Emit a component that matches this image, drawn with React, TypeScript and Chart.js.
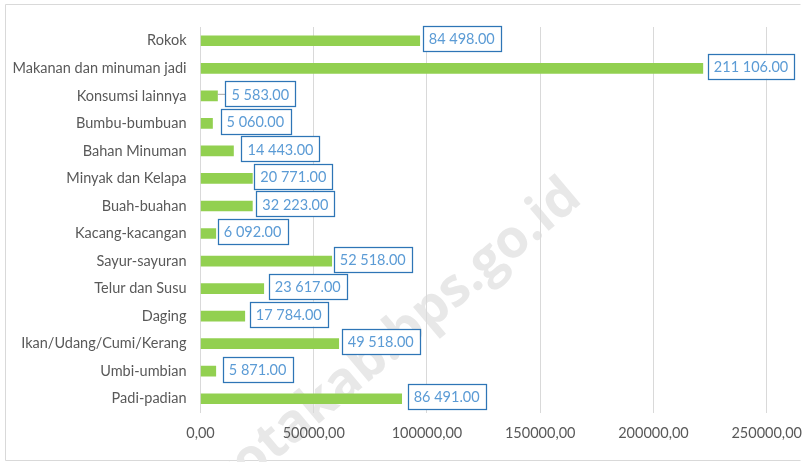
import React, { useEffect, useRef } from "react";
import { Chart, registerables } from "chart.js";

Chart.register(...registerables);

const categories = [
  "Rokok",
  "Makanan dan minuman jadi",
  "Konsumsi lainnya",
  "Bumbu-bumbuan",
  "Bahan Minuman",
  "Minyak dan Kelapa",
  "Buah-buahan",
  "Kacang-kacangan",
  "Sayur-sayuran",
  "Telur dan Susu",
  "Daging",
  "Ikan/Udang/Cumi/Kerang",
  "Umbi-umbian",
  "Padi-padian",
];

// bar lengths as drawn in the picture
const barValues = [96800, 221800, 7500, 5300, 14560, 22900, 22900, 6750, 57940, 27930, 19550, 61030, 6750, 88830];

// numbers printed in the label boxes
const labelValues = [84498, 211106, 5583, 5060, 14443, 20771, 32223, 6092, 52518, 23617, 17784, 49518, 5871, 86491];

const xTicks = [0, 50000, 100000, 150000, 200000, 250000];

// gap (px) between bar end and its label box
const labelGaps = [3, 5, 8, 8, 8, 2, 4, 2, 2, 5, 5, 3, 7, 6];

const FONT = "Lato, 'Open Sans', sans-serif";

function fmtLabel(v: number): string {
  const s = String(Math.round(v));
  const withSep = s.replace(/\B(?=(\d{3})+(?!\d))/g, " ");
  return withSep + ".00";
}

const framePlugin = {
  id: "frame",
  beforeDraw(chart: any) {
    const ctx = chart.ctx;
    ctx.save();
    ctx.fillStyle = "#ffffff";
    ctx.fillRect(0, 0, chart.width, chart.height);
    ctx.strokeStyle = "#d9d9d9";
    ctx.lineWidth = 1;
    ctx.beginPath();
    ctx.moveTo(5.5, 460.5);
    ctx.lineTo(5.5, 4.5);
    ctx.lineTo(800.5, 4.5);
    ctx.moveTo(5.5, 460.5);
    ctx.lineTo(800.5, 460.5);
    ctx.stroke();
    // watermark
    ctx.translate(574, 190);
    ctx.rotate(-40 * Math.PI / 180);
    ctx.font = "bold 53px 'Open Sans', sans-serif";
    ctx.fillStyle = "#e8e8e8";
    ctx.textAlign = "right";
    ctx.textBaseline = "middle";
    ctx.fillText("kotakab.bps.go.id", 0, 0);
    ctx.restore();
  },
};

const labelPlugin = {
  id: "boxLabels",
  afterDatasetsDraw(chart: any) {
    const ctx = chart.ctx;
    const meta = chart.getDatasetMeta(0);
    ctx.save();
    ctx.font = "14.5px " + FONT;
    ctx.textBaseline = "middle";
    ctx.textAlign = "left";
    meta.data.forEach((bar: any, i: number) => {
      const text = fmtLabel(labelValues[i]);
      const tw = ctx.measureText(text).width;
      const w = tw + 12;
      const h = 25;
      const gap = labelGaps[i];
      const x0 = bar.x + gap;
      const cy = bar.y - 2;
      if (i === 2) {
        ctx.strokeStyle = "#a6a6a6";
        ctx.lineWidth = 1;
        ctx.beginPath();
        ctx.moveTo(bar.x, cy + 0.5);
        ctx.lineTo(x0, cy + 0.5);
        ctx.stroke();
      }
      ctx.fillStyle = "#ffffff";
      ctx.fillRect(x0, cy - h / 2, w, h);
      ctx.strokeStyle = "#2e75b6";
      ctx.lineWidth = 1.25;
      ctx.strokeRect(Math.round(x0) + 0.5, Math.round(cy - h / 2) + 0.5, Math.round(w), h);
      ctx.fillStyle = "#5b9bd5";
      ctx.fillText(text, x0 + 6, cy + 1);
    });
    ctx.restore();
  },
};

export default function App() {
  const ref = useRef<HTMLCanvasElement | null>(null);
  useEffect(() => {
    if (!ref.current) return;
    const chart = new Chart(ref.current, {
      type: "bar",
      data: {
        labels: categories,
        datasets: [
          {
            data: barValues,
            backgroundColor: "#92d050",
            borderWidth: 0,
            barThickness: 10,
          },
        ],
      },
      options: {
        indexAxis: "y",
        animation: false,
        responsive: false,
        maintainAspectRatio: false,
        devicePixelRatio: 1,
        layout: { padding: { top: 27, right: 40.3, bottom: 0, left: 0 } },
        plugins: {
          legend: { display: false },
          tooltip: { enabled: false },
        },
        scales: {
          x: {
            min: 0,
            max: 250000,
            afterFit: (s: any) => {
              s.height = 49.5;
              s.paddingLeft = 0;
              s.paddingRight = 0;
            },
            afterBuildTicks: (s: any) => {
              s.ticks = xTicks.map((v) => ({ value: v }));
            },
            ticks: {
              color: "#595959",
              font: { family: FONT, size: 14.5 },
              padding: 12,
              maxRotation: 0,
              callback: (v: any) => `${v},00`,
            },
            grid: { color: "#d9d9d9", lineWidth: 1, drawTicks: false },
            border: { display: false },
          },
          y: {
            afterFit: (s: any) => {
              s.width = 200.5;
              s.paddingTop = 0;
              s.paddingBottom = 0;
            },
            ticks: {
              color: "#595959",
              font: { family: FONT, size: 14.5 },
              padding: 14,
            },
            grid: { display: false, drawTicks: false },
            border: { display: true, color: "#d9d9d9" },
          },
        },
      },
      plugins: [framePlugin, labelPlugin],
    } as any);
    return () => chart.destroy();
  }, []);
  return (
    <div style={{ position: "fixed", left: 0, top: 0, width: 807, height: 462 }}>
      <canvas ref={ref} width={807} height={462} style={{ width: 807, height: 462 }} />
    </div>
  );
}
